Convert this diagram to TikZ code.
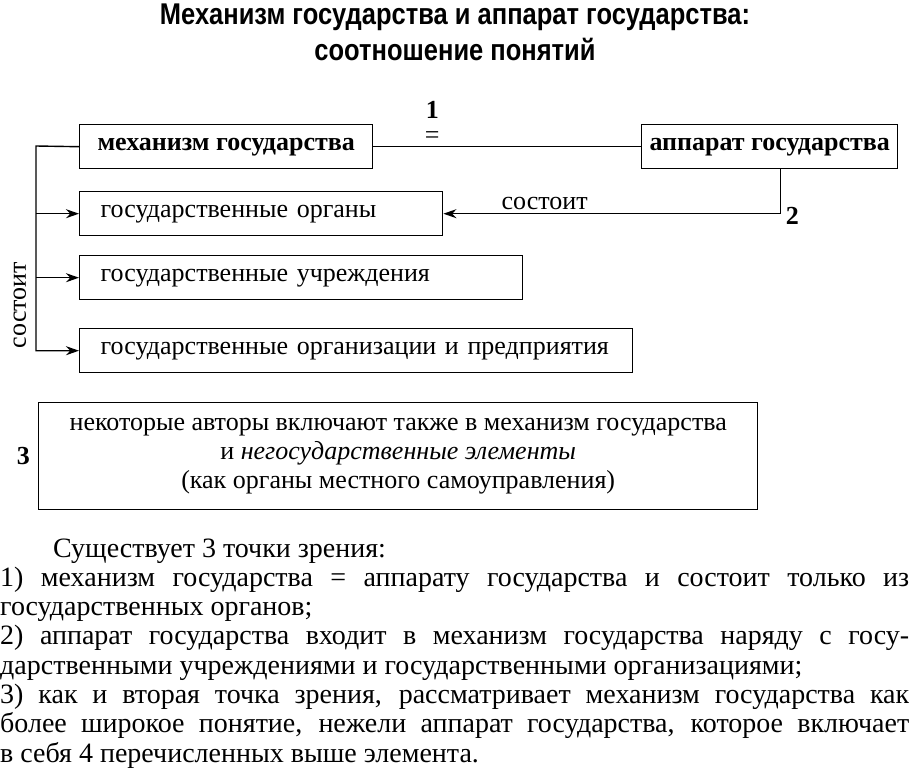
\documentclass[tikz,border=0pt]{standalone}
\usepackage{fontspec}
\setmainfont{Liberation Serif}
\newfontfamily\titlefont[FakeStretch=0.85]{Liberation Sans}
\usetikzlibrary{positioning,arrows.meta}

\begin{document}
\begin{tikzpicture}[
            x=1pt, y=-1pt,
            entity/.style={rectangle, draw, line width=1.4pt, minimum height=44pt,
                          inner xsep=21pt, anchor=north west, font=\fontsize{26}{30}\selectfont},
            lead/.style={entity, inner xsep=4pt, font=\fontsize{26}{30}\selectfont\bfseries},
            arrow/.style={-{Stealth[length=13pt,width=9pt]}, line width=1.4pt},
            link/.style={line width=1.4pt},
            tag/.style={font=\fontsize{26}{30}\selectfont\bfseries, inner sep=1pt}
        ]
            \useasboundingbox (0,0) rectangle (909,768);
            \fill[white] (0,0) rectangle (909,768);

            % заголовок
            \node[font=\titlefont\fontsize{30}{36}\selectfont\bfseries, align=center, anchor=north, inner sep=0pt]
                (title) at (455,4) {Механизм государства и аппарат государства:\\соотношение понятий};

            % механизм и аппарат
            \node[lead, minimum width=293pt] (mech) at (79,124) {механизм государства};
            \node[lead, minimum width=256pt] (appar) at (641,124) {аппарат государства};
            \draw[link] (mech.east) -- node[pos=0.22, above=3pt, inner sep=0pt,
                font=\fontsize{26}{30}\selectfont] (eq) {=} (appar.west);
            \node[tag, above=12pt of eq, inner sep=0pt] (one) {1};

            % элементы
            \node[entity, text width=321pt] (organs) at (79,191) {государственные органы};
            \node[entity, text width=401pt] (instit) at (79,255) {государственные учреждения};
            \node[entity, text width=511pt] (enterp) at (79,328) {государственные организации и предприятия};

            % состоит (слева)
            \coordinate (trunk) at (36,146);
            \draw[arrow] (mech.west) -- (trunk) |- (enterp.west);
            \draw[arrow] (trunk |- organs.west) -- (organs.west);
            \draw[arrow] (trunk |- instit.west) -- (instit.west);
            \node[rotate=90, font=\fontsize{26}{30}\selectfont] (consist) at (20,305) {состоит};

            % состоит (справа)
            \coordinate (drop) at ([xshift=11pt]appar.south);
            \draw[arrow] (drop) |- node[pos=0.85, above=0pt, font=\fontsize{26}{30}\selectfont] (consist2) {состоит} (organs.east);
            \node[tag, anchor=west] (two) at ([xshift=4pt,yshift=-2pt]drop |- organs.east) {2};

            % негосударственные элементы
            \node[rectangle, draw, line width=1.4pt, minimum width=719pt, minimum height=107pt,
                  anchor=north west, align=center, font=\fontsize{26}{29}\selectfont] (extra) at (38,402)
                {некоторые авторы включают также в механизм государства\\
                 и \textit{негосударственные элементы}\\
                 (как органы местного самоуправления)};
            \node[tag, left=7pt of extra] (three) {3};

            % точки зрения
            \node[anchor=base west, text width=909pt, inner sep=0pt, align=justify,
                  font=\fontsize{28}{29.3}\selectfont] (views) at (0,557)
                {\hspace*{53pt}Существует 3 точки зрения:\\
                 1) механизм государства = аппарату государства и состоит только из\linebreak
                 государственных органов;\\
                 2) аппарат государства входит в механизм государства наряду с госу-\linebreak
                 дарственными учреждениями и государственными организациями;\\
                 3) как и вторая точка зрения, рассматривает механизм государства как\linebreak
                 более широкое понятие, нежели аппарат государства, которое включает\linebreak
                 в себя 4 перечисленных выше элемента.};
        \end{tikzpicture}
\end{document}
